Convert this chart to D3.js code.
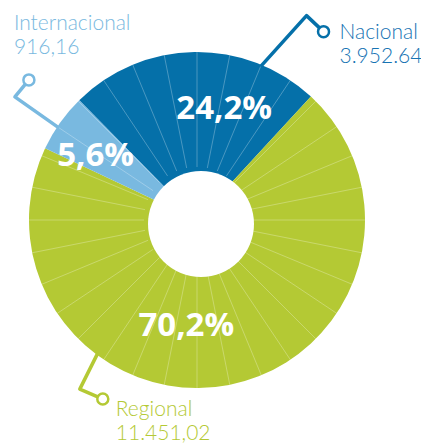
<!DOCTYPE html>
<html>
<head>
<meta charset="utf-8">
<style>
  body { margin: 0; background: #fff; }
  svg { display: block; }
  .pct { font-family: "Open Sans", sans-serif; font-weight: 700; font-size: 33px; fill: #fff; }
  .lbl { font-family: Lato, "Open Sans", sans-serif; font-weight: 300; font-size: 21px; }
</style>
</head>
<body>
<svg width="421" height="448"></svg>
<script src="https://cdn.jsdelivr.net/npm/d3@7"></script>
<script>

// data
const categories  = ["Nacional", "Regional", "Internacional"];
const values      = [3952.64, 11451.02, 916.16];
const valueLabels = ["3.952.64", "11.451,02", "916,16"];
const colors      = ["#0570a9", "#b4c934", "#79b9e0"];
const textColors  = ["#1673b3", "#b4c934", "#79b9e0"];

const data = categories.map((c, i) => ({ name: c, value: values[i], label: valueLabels[i], color: colors[i], text: textColors[i] }));

// layout
const cx = 197, cy = 220, R = 168;
const hole = { x: 201, y: 224, r: 53 };
const start = -44.5 * Math.PI / 180;

// where the big % go (nudged off the centroid) and how the callouts bend
const layout = {
  Nacional:      { pct: [29, 4],   ang: 22.5,  elbow: [46, -51],  end: [17, 16],  txt: [16, 7],   anchor: "start" },
  Regional:      { pct: [-33, -11], ang: 216.7, elbow: [-18, 36],  end: [23, 10],  txt: [13, 17],  anchor: "start" },
  Internacional: { pct: [-6, 2],   ang: 303.7, elbow: [-44, -31], end: [14, -17], txt: [-15, -50], anchor: "start" }
};

const svg = d3.select("svg");
const g = svg.append("g").attr("transform", `translate(${cx},${cy})`);

const pie = d3.pie().sort(null).value(d => d.value)
  .startAngle(start).endAngle(start + 2 * Math.PI);
const arcs = pie(data);

const arc = d3.arc().innerRadius(0).outerRadius(R);
const labelArc = d3.arc().innerRadius(117).outerRadius(117);

g.selectAll("path.slice")
  .data(arcs)
  .enter().append("path")
    .attr("class", "slice")
    .attr("d", arc)
    .attr("fill", d => d.data.color);

// thin spokes across the ring
const spokes = d3.range(32).map(i => i * 2 * Math.PI / 32);
g.selectAll("line.spoke")
  .data(spokes)
  .enter().append("line")
    .attr("class", "spoke")
    .attr("x1", a => hole.r * Math.sin(a)).attr("y1", a => -hole.r * Math.cos(a))
    .attr("x2", a => R * Math.sin(a)).attr("y2", a => -R * Math.cos(a))
    .attr("stroke", "#fff")
    .attr("stroke-opacity", 0.35)
    .attr("stroke-width", 0.8);

// the hole
svg.append("circle")
  .attr("cx", hole.x).attr("cy", hole.y).attr("r", hole.r)
  .attr("fill", "#fff");

// percentages
const total = d3.sum(values);
const fmt = d3.formatLocale({ decimal: ",", thousands: ".", grouping: [3], currency: ["", ""] }).format(".1f");

g.selectAll("text.pct")
  .data(arcs)
  .enter().append("text")
    .attr("class", "pct")
    .attr("text-anchor", "middle")
    .attr("x", d => labelArc.centroid(d)[0] + layout[d.data.name].pct[0])
    .attr("y", d => labelArc.centroid(d)[1] + layout[d.data.name].pct[1] + 12)
    .text(d => fmt(d.data.value / total * 100) + "%");

// callouts
data.forEach(d => {
  const L = layout[d.name];
  const a = L.ang * Math.PI / 180;
  const p0 = [cx + (R - 2) * Math.sin(a), cy - (R - 2) * Math.cos(a)];
  const p1 = [p0[0] + L.elbow[0], p0[1] + L.elbow[1]];
  const p2 = [p1[0] + L.end[0], p1[1] + L.end[1]];
  const ux = p2[0] - p1[0], uy = p2[1] - p1[1], len = Math.hypot(ux, uy);
  const rr = 5.5;
  const p2s = [p2[0] - ux / len * rr, p2[1] - uy / len * rr];

  svg.append("path")
    .attr("d", d3.line()([p0, p1, p2s]))
    .attr("fill", "none")
    .attr("stroke", d.color)
    .attr("stroke-width", 3.5)
    .attr("stroke-linejoin", "round");

  svg.append("circle")
    .attr("cx", p2[0]).attr("cy", p2[1]).attr("r", rr)
    .attr("fill", "#fff")
    .attr("stroke", d.color)
    .attr("stroke-width", 2.5);

  const t = svg.append("text")
    .attr("class", "lbl")
    .attr("fill", d.text)
    .attr("text-anchor", L.anchor)
    .attr("x", p2[0] + L.txt[0])
    .attr("y", p2[1] + L.txt[1]);
  t.append("tspan").text(d.name);
  t.append("tspan").attr("x", p2[0] + L.txt[0]).attr("dy", 24).text(d.label);
});

</script>
</body>
</html>
